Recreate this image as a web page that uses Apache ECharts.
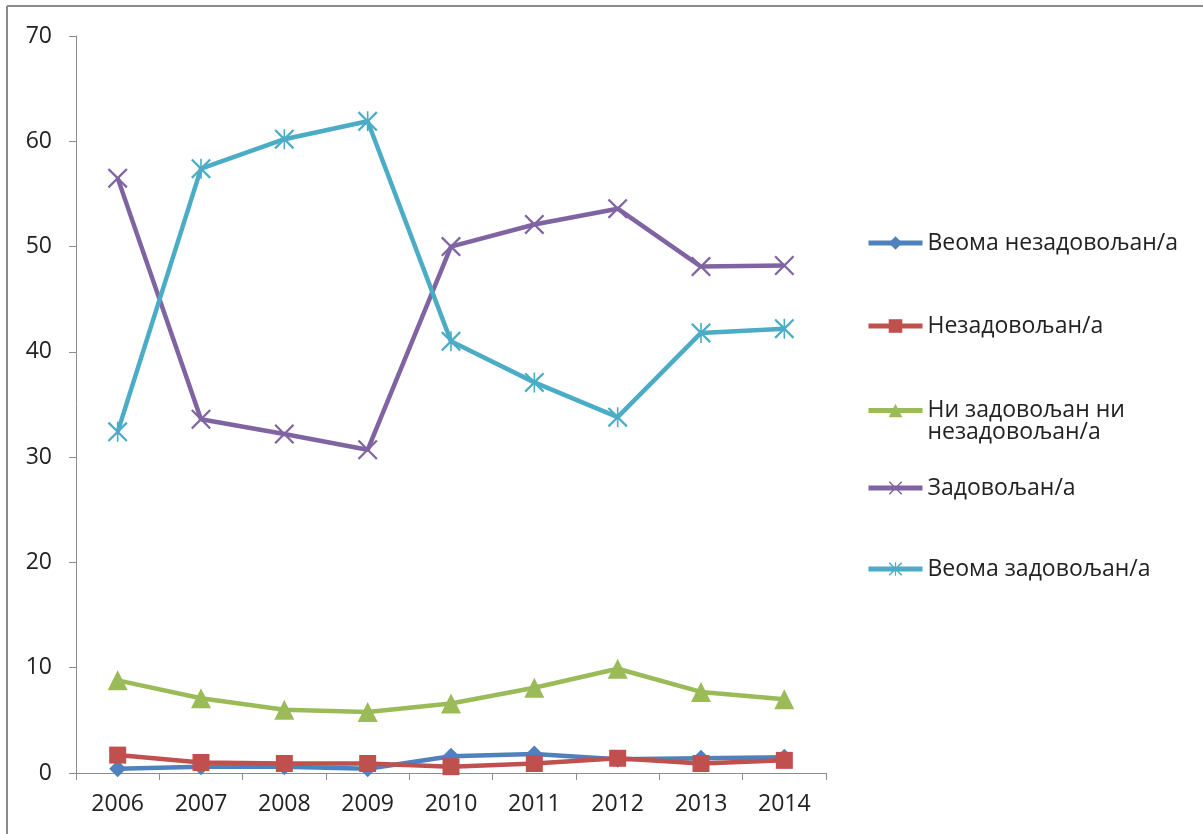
<!DOCTYPE html>
<html>
<head>
<meta charset="utf-8">
<script src="https://cdn.jsdelivr.net/npm/echarts@6/dist/echarts.min.js"></script>
<style>
  html, body { margin: 0; padding: 0; background: #fff; }
  #chart { width: 1203px; height: 834px; }
</style>
</head>
<body>
<div id="chart"></div>
<script>
// Survey satisfaction by year, 2006–2014 (percent)
const years = ['2006', '2007', '2008', '2009', '2010', '2011', '2012', '2013', '2014'];

const veryDissatisfied = [0.4, 0.6, 0.6, 0.4, 1.6, 1.8, 1.3, 1.4, 1.5];
const dissatisfied     = [1.7, 1.0, 0.9, 0.9, 0.6, 0.9, 1.4, 0.9, 1.2];
const neutral          = [8.8, 7.1, 6.0, 5.8, 6.6, 8.1, 9.9, 7.7, 7.0];
const satisfied        = [56.5, 33.6, 32.2, 30.7, 50.0, 52.1, 53.6, 48.1, 48.2];
const verySatisfied    = [32.4, 57.4, 60.2, 61.9, 41.0, 37.1, 33.8, 41.8, 42.2];

const seriesNames = [
  'Веома незадовољан/а',
  'Незадовољан/а',
  'Ни задовољан ни\nнезадовољан/а',
  'Задовољан/а',
  'Веома задовољан/а'
];

const yTicks = { min: 0, max: 70, interval: 10 };

// Thin cross and asterisk markers as filled outlines
const crossPath = 'path://M0,0.8 L0.8,0 L5,4.2 L9.2,0 L10,0.8 L5.8,5 L10,9.2 L9.2,10 L5,5.8 L0.8,10 L0,9.2 L4.2,5 Z';
const starPath = 'path://M0,0.8 L0.8,0 L5,4.2 L9.2,0 L10,0.8 L5.8,5 L10,9.2 L9.2,10 L5,5.8 L0.8,10 L0,9.2 L4.2,5 Z ' +
                 'M4.6,0 L5.4,0 L5.4,4 L4.6,4 Z M4.6,6 L5.4,6 L5.4,10 L4.6,10 Z';

const colors = ['#4F81BD', '#C0504D', '#9BBB59', '#8064A2', '#4BACC6'];
const fontFamily = '"Open Sans", "Noto Sans", sans-serif';
const fontSize = 23;

function lineSeries(name, data, color, symbol, size) {
  return {
    name: name,
    type: 'line',
    data: data,
    symbol: symbol,
    symbolSize: size,
    lineStyle: { color: color, width: 4.5 },
    itemStyle: { color: color },
    emphasis: { disabled: true },
    z: 2
  };
}

const chart = echarts.init(document.getElementById('chart'), null, { renderer: 'canvas' });

// Legend entries stacked down the right side; first-line centres at these y values
const legendCentres = [243, 326, 410, 488, 569];
const legends = seriesNames.map((n, i) => {
  const twoLine = n.indexOf('\n') >= 0;
  const lh = twoLine ? 22 : 26;
  // two-line entry: an empty line above keeps the icon level with its first line
  const top = twoLine ? legendCentres[i] - (lh + lh / 2) : legendCentres[i] - lh / 2;
  return {
    data: [n],
    orient: 'vertical',
    left: 866,
    top: top,
    padding: 0,
    itemWidth: 54,
    itemHeight: 17,
    itemGap: 0,
    selectedMode: false,
    lineStyle: { width: 5 },
    formatter: twoLine ? (name) => '\n' + name : (name) => name,
    textStyle: {
      fontFamily: fontFamily,
      fontSize: fontSize,
      color: '#222',
      lineHeight: lh
    }
  };
});

chart.setOption({
  animation: false,
  backgroundColor: '#fff',
  color: colors,
  grid: { left: 76, right: 377, top: 36, bottom: 61, containLabel: false },
  legend: legends,
  xAxis: {
    type: 'category',
    data: years,
    boundaryGap: true,
    axisLine: { lineStyle: { color: '#8c8c8c', width: 1 } },
    axisTick: { show: true, alignWithLabel: false, length: 7, lineStyle: { color: '#8c8c8c' } },
    axisLabel: { fontFamily: fontFamily, fontSize: fontSize, color: '#222', margin: 20 },
    splitLine: { show: false }
  },
  yAxis: {
    type: 'value',
    min: yTicks.min,
    max: yTicks.max,
    interval: yTicks.interval,
    axisLine: { show: true, lineStyle: { color: '#8c8c8c', width: 1 } },
    axisTick: { show: true, length: 7, lineStyle: { color: '#8c8c8c' } },
    axisLabel: { fontFamily: fontFamily, fontSize: fontSize, color: '#222', margin: 24 },
    splitLine: { show: false }
  },
  graphic: [
    { type: 'line', shape: { x1: 7, y1: 6, x2: 1203, y2: 6 }, style: { stroke: '#8a8a8a', lineWidth: 2 } },
    { type: 'line', shape: { x1: 7, y1: 6, x2: 7, y2: 834 }, style: { stroke: '#8a8a8a', lineWidth: 2 } }
  ],
  series: [
    lineSeries(seriesNames[0], veryDissatisfied, colors[0], 'diamond', 17),
    lineSeries(seriesNames[1], dissatisfied, colors[1], 'rect', 17),
    lineSeries(seriesNames[2], neutral, colors[2], 'triangle', 20),
    lineSeries(seriesNames[3], satisfied, colors[3], crossPath, 20),
    lineSeries(seriesNames[4], verySatisfied, colors[4], starPath, 20)
  ]
});
</script>
</body>
</html>
